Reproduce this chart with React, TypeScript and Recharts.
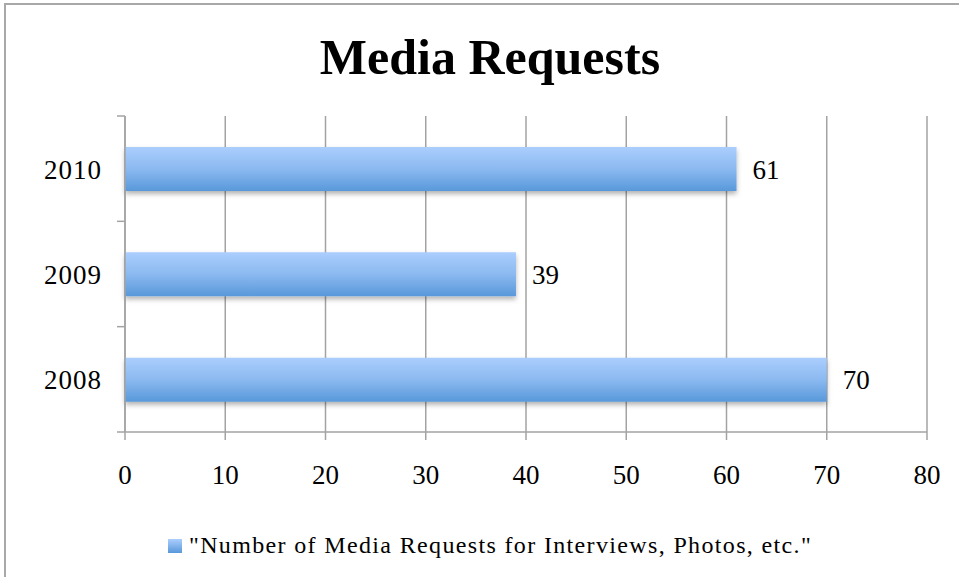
import React from 'react';
import { BarChart, Bar, XAxis, YAxis, CartesianGrid, LabelList } from 'recharts';

const years = ['2008', '2009', '2010'];
const requests = [70, 39, 61];
const xTicks = [0, 10, 20, 30, 40, 50, 60, 70, 80];
const seriesName = '"Number of Media Requests for Interviews, Photos, etc."';

const data = years.map((year, i) => ({ year, requests: requests[i] }));

const W = 959;
const H = 577;
const TOP = 116;
const BOTTOM = 145;
const band = (H - TOP - BOTTOM) / years.length;

const FONT = '"Liberation Serif", "Times New Roman", serif';
const GRID = '#a3a3a3';

const YearTick = (props: any) => {
  const { x, y, payload, index } = props;
  return (
    <g>
      <text
        x={x - 23}
        y={y}
        dy={10}
        textAnchor="end"
        fontFamily={FONT}
        fontSize={27}
        letterSpacing={1}
        fill="#000"
      >
        {payload.value}
      </text>
      <line x1={x - 8} x2={x} y1={y - band / 2} y2={y - band / 2} stroke={GRID} strokeWidth={1.5} />
      {index === 0 && (
        <line x1={x - 8} x2={x} y1={y + band / 2} y2={y + band / 2} stroke={GRID} strokeWidth={1.5} />
      )}
    </g>
  );
};

const App: React.FC = () => {
  return (
    <div style={{ position: 'absolute', left: 0, top: 0, width: W, height: H, overflow: 'hidden', background: '#fff' }}>
      <div
        style={{
          position: 'absolute',
          left: 4,
          top: 3,
          width: 1100,
          height: 700,
          border: '2px solid #a8a8a8',
        }}
      />
      <div
        style={{
          position: 'absolute',
          left: 0,
          width: 980,
          top: 22,
          textAlign: 'center',
          fontFamily: FONT,
          fontWeight: 'bold',
          fontSize: 50,
          lineHeight: '70px',
          color: '#000',
        }}
      >
        Media Requests
      </div>
      <div style={{ position: 'absolute', left: 0, top: 0 }}>
        <BarChart
          width={W}
          height={H}
          layout="vertical"
          data={data}
          margin={{ top: TOP, right: 32, bottom: BOTTOM - 40, left: 0 }}
        >
          <defs>
            <linearGradient id="barFill" x1="0" y1="0" x2="0" y2="1">
              <stop offset="0%" stopColor="#abcefd" />
              <stop offset="50%" stopColor="#8bb9f0" />
              <stop offset="100%" stopColor="#5898da" />
            </linearGradient>
            <filter id="barShadow" x="-5%" y="-20%" width="110%" height="160%">
              <feDropShadow dx="0" dy="3" stdDeviation="2.5" floodColor="#000" floodOpacity="0.3" />
            </filter>
          </defs>
          <CartesianGrid horizontal={false} stroke={GRID} strokeWidth={1.5} />
          <XAxis
            type="number"
            domain={[0, 80]}
            ticks={xTicks}
            height={40}
            tickSize={8}
            tickMargin={25}
            axisLine={{ stroke: GRID, strokeWidth: 1.5 }}
            tickLine={{ stroke: GRID, strokeWidth: 1.5 }}
            tick={{ fontFamily: FONT, fontSize: 27, fill: '#000' }}
          />
          <YAxis
            type="category"
            dataKey="year"
            reversed
            width={125}
            tickSize={0}
            tickMargin={0}
            tickLine={false}
            axisLine={{ stroke: GRID, strokeWidth: 1.5 }}
            tick={<YearTick />}
          />
          <Bar
            dataKey="requests"
            name={seriesName}
            fill="url(#barFill)"
            barSize={44}
            filter="url(#barShadow)"
            isAnimationActive={false}
          >
            <LabelList
              dataKey="requests"
              position="right"
              offset={16}
              fill="#000"
              fontFamily={FONT}
              fontSize={27}
            />
          </Bar>
        </BarChart>
      </div>
      <div
        style={{
          position: 'absolute',
          left: 168,
          top: 532,
          display: 'flex',
          alignItems: 'center',
          fontFamily: FONT,
          fontSize: 24,
          letterSpacing: 1.35,
          color: '#000',
          whiteSpace: 'nowrap',
        }}
      >
        <span
          style={{
            display: 'inline-block',
            width: 14,
            height: 14,
            marginRight: 7,
            background: 'linear-gradient(#abcefd, #5898da)',
          }}
        />
        <span>{seriesName}</span>
      </div>
    </div>
  );
};

export default App;
